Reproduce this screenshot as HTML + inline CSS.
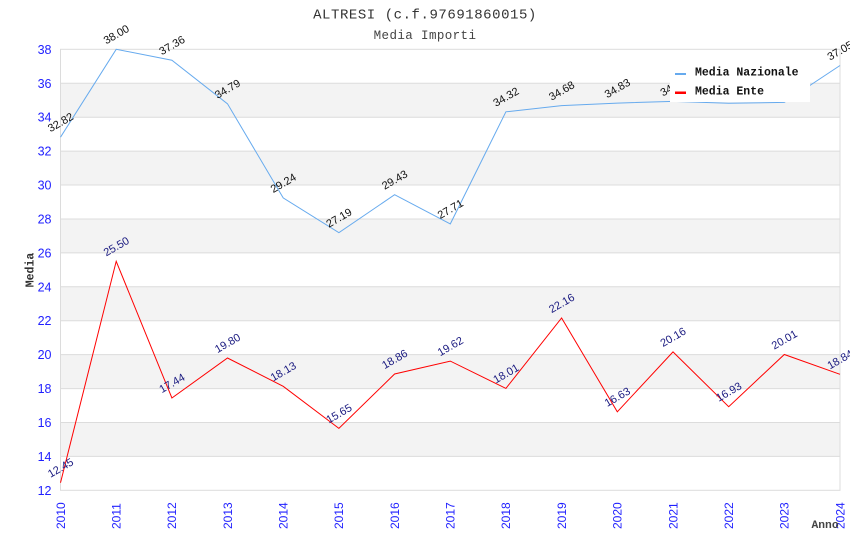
<!DOCTYPE html>
<html><head><meta charset="utf-8"><style>
html,body{margin:0;padding:0;background:#fff;}
svg{display:block;}
</style></head><body>
<svg width="850" height="550" viewBox="0 0 850 550" xmlns="http://www.w3.org/2000/svg">
<rect x="0" y="0" width="850" height="550" fill="#fff"/>
<!-- bands -->
<g fill="#f3f3f3">
<rect x="60.5" y="83.3" width="779.5" height="33.9"/>
<rect x="60.5" y="151.1" width="779.5" height="33.9"/>
<rect x="60.5" y="219.0" width="779.5" height="33.9"/>
<rect x="60.5" y="286.8" width="779.5" height="33.9"/>
<rect x="60.5" y="354.6" width="779.5" height="34.0"/>
<rect x="60.5" y="422.5" width="779.5" height="33.9"/>
</g>
<g stroke="#dcdcdc" stroke-width="1" fill="none">
<line x1="60.5" x2="840" y1="456.4" y2="456.4"/>
<line x1="60.5" x2="840" y1="422.5" y2="422.5"/>
<line x1="60.5" x2="840" y1="388.6" y2="388.6"/>
<line x1="60.5" x2="840" y1="354.6" y2="354.6"/>
<line x1="60.5" x2="840" y1="320.7" y2="320.7"/>
<line x1="60.5" x2="840" y1="286.8" y2="286.8"/>
<line x1="60.5" x2="840" y1="252.9" y2="252.9"/>
<line x1="60.5" x2="840" y1="219.0" y2="219.0"/>
<line x1="60.5" x2="840" y1="185.0" y2="185.0"/>
<line x1="60.5" x2="840" y1="151.1" y2="151.1"/>
<line x1="60.5" x2="840" y1="117.2" y2="117.2"/>
<line x1="60.5" x2="840" y1="83.3" y2="83.3"/>
<rect x="60.5" y="49.3" width="779.5" height="441"/>
</g>
<!-- y tick labels -->
<g font-family="Liberation Sans, sans-serif" font-size="12.5" fill="#1f1fff" text-anchor="end">
<text x="51.5" y="494.8">12</text>
<text x="51.5" y="460.9">14</text>
<text x="51.5" y="427.0">16</text>
<text x="51.5" y="393.1">18</text>
<text x="51.5" y="359.1">20</text>
<text x="51.5" y="325.2">22</text>
<text x="51.5" y="291.3">24</text>
<text x="51.5" y="257.4">26</text>
<text x="51.5" y="223.5">28</text>
<text x="51.5" y="189.5">30</text>
<text x="51.5" y="155.6">32</text>
<text x="51.5" y="121.7">34</text>
<text x="51.5" y="87.8">36</text>
<text x="51.5" y="53.8">38</text>
</g>
<!-- x tick labels -->
<g font-family="Liberation Sans, sans-serif" font-size="12" fill="#1f1fff">
<text transform="translate(64.8,529) rotate(-90)">2010</text>
<text transform="translate(120.5,529) rotate(-90)">2011</text>
<text transform="translate(176.2,529) rotate(-90)">2012</text>
<text transform="translate(231.8,529) rotate(-90)">2013</text>
<text transform="translate(287.5,529) rotate(-90)">2014</text>
<text transform="translate(343.2,529) rotate(-90)">2015</text>
<text transform="translate(398.9,529) rotate(-90)">2016</text>
<text transform="translate(454.6,529) rotate(-90)">2017</text>
<text transform="translate(510.2,529) rotate(-90)">2018</text>
<text transform="translate(565.9,529) rotate(-90)">2019</text>
<text transform="translate(621.6,529) rotate(-90)">2020</text>
<text transform="translate(677.3,529) rotate(-90)">2021</text>
<text transform="translate(733.0,529) rotate(-90)">2022</text>
<text transform="translate(788.6,529) rotate(-90)">2023</text>
<text transform="translate(844.3,529) rotate(-90)">2024</text>
</g>
<!-- series -->
<polyline fill="none" stroke="#66aaee" stroke-width="1" points="60.5,137.2 116.2,49.3 171.9,60.2 227.5,103.8 283.2,197.9 338.9,232.7 394.6,194.7 450.3,223.9 505.9,111.8 561.6,105.6 617.3,103.1 673.0,101.4 728.7,103.3 784.3,102.4 840,65.5"/>
<polyline fill="none" stroke="#ff0000" stroke-width="1" points="60.5,482.7 116.2,261.3 171.9,398.0 227.5,358.0 283.2,386.3 338.9,428.4 394.6,374.0 450.3,361.1 505.9,388.4 561.6,318.0 617.3,411.8 673.0,351.9 728.7,406.7 784.3,354.5 840,374.3"/>
<!-- data labels nazionale -->
<g font-family="Liberation Sans, sans-serif" font-size="11" fill="#111" text-anchor="middle">
<text transform="translate(60.5,122.2) rotate(-30)" dy="0.35em">32.82</text>
<text transform="translate(116.2,34.3) rotate(-30)" dy="0.35em">38.00</text>
<text transform="translate(171.9,45.2) rotate(-30)" dy="0.35em">37.36</text>
<text transform="translate(227.5,88.8) rotate(-30)" dy="0.35em">34.79</text>
<text transform="translate(283.2,182.9) rotate(-30)" dy="0.35em">29.24</text>
<text transform="translate(338.9,217.7) rotate(-30)" dy="0.35em">27.19</text>
<text transform="translate(394.6,179.7) rotate(-30)" dy="0.35em">29.43</text>
<text transform="translate(450.3,208.9) rotate(-30)" dy="0.35em">27.71</text>
<text transform="translate(505.9,96.8) rotate(-30)" dy="0.35em">34.32</text>
<text transform="translate(561.6,90.6) rotate(-30)" dy="0.35em">34.68</text>
<text transform="translate(617.3,88.1) rotate(-30)" dy="0.35em">34.83</text>
<text transform="translate(673.0,86.4) rotate(-30)" dy="0.35em">34.93</text>
<text transform="translate(728.7,88.3) rotate(-30)" dy="0.35em">34.82</text>
<text transform="translate(784.3,87.4) rotate(-30)" dy="0.35em">34.87</text>
<text transform="translate(840,50.5) rotate(-30)" dy="0.35em">37.05</text>
</g>
<!-- data labels ente -->
<g font-family="Liberation Sans, sans-serif" font-size="11" fill="#1a1a80" text-anchor="middle">
<text transform="translate(60.5,467.7) rotate(-30)" dy="0.35em">12.45</text>
<text transform="translate(116.2,246.3) rotate(-30)" dy="0.35em">25.50</text>
<text transform="translate(171.9,383.0) rotate(-30)" dy="0.35em">17.44</text>
<text transform="translate(227.5,343.0) rotate(-30)" dy="0.35em">19.80</text>
<text transform="translate(283.2,371.3) rotate(-30)" dy="0.35em">18.13</text>
<text transform="translate(338.9,413.4) rotate(-30)" dy="0.35em">15.65</text>
<text transform="translate(394.6,359.0) rotate(-30)" dy="0.35em">18.86</text>
<text transform="translate(450.3,346.1) rotate(-30)" dy="0.35em">19.62</text>
<text transform="translate(505.9,373.4) rotate(-30)" dy="0.35em">18.01</text>
<text transform="translate(561.6,303.0) rotate(-30)" dy="0.35em">22.16</text>
<text transform="translate(617.3,396.8) rotate(-30)" dy="0.35em">16.63</text>
<text transform="translate(673.0,336.9) rotate(-30)" dy="0.35em">20.16</text>
<text transform="translate(728.7,391.7) rotate(-30)" dy="0.35em">16.93</text>
<text transform="translate(784.3,339.5) rotate(-30)" dy="0.35em">20.01</text>
<text transform="translate(840,359.3) rotate(-30)" dy="0.35em">18.84</text>
</g>
<!-- legend -->
<rect x="670" y="60" width="140" height="42" fill="#fff"/>
<rect x="675" y="73" width="11" height="2" fill="#66aaee"/>
<rect x="675" y="91.5" width="11" height="2.5" fill="#ff0000"/>
<g font-family="Liberation Mono, monospace" font-size="11.5" font-weight="bold" fill="#111">
<text x="695" y="75.5">Media Nazionale</text>
<text x="695" y="94.3">Media Ente</text>
</g>
<!-- titles -->
<text x="425" y="18.5" text-anchor="middle" font-family="Liberation Mono, monospace" font-size="14" letter-spacing="0.55" fill="#333">ALTRESI (c.f.97691860015)</text>
<text x="425" y="39" text-anchor="middle" font-family="Liberation Mono, monospace" font-size="12.5" letter-spacing="0.4" fill="#444">Media Importi</text>
<!-- axis titles -->
<text transform="translate(33.5,270) rotate(-90)" text-anchor="middle" font-family="Liberation Mono, monospace" font-size="11.5" font-weight="bold" fill="#333">Media</text>
<text x="811.5" y="528" font-family="Liberation Mono, monospace" font-size="11.3" font-weight="bold" fill="#444">Anno</text>
</svg>
</body></html>
